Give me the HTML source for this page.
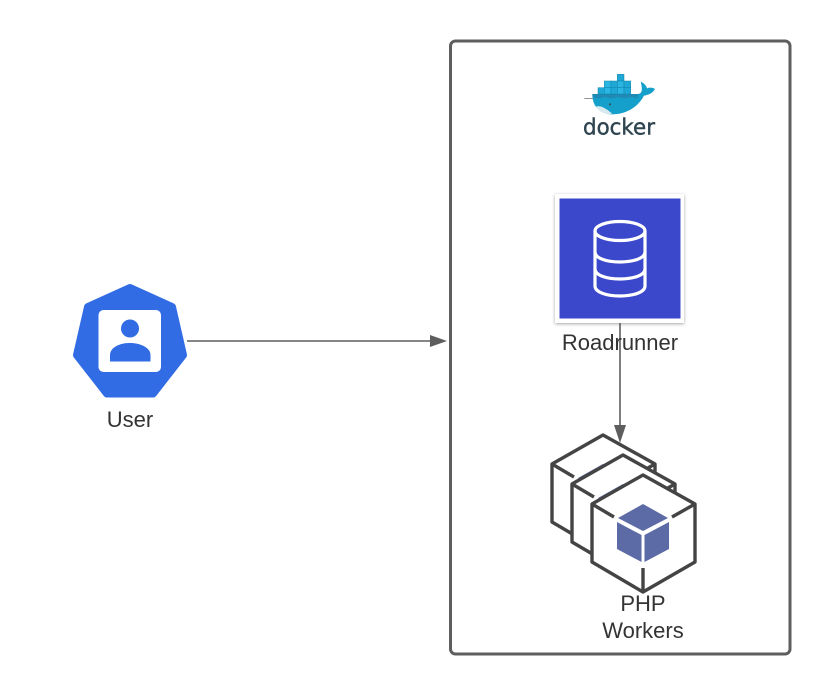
<!DOCTYPE html>
<html><head><meta charset="utf-8"><style>
html,body{margin:0;padding:0;background:#fff}
svg{display:block}
text{font-family:"Liberation Sans",sans-serif;fill:#333;text-anchor:middle}
</style></head><body>
<svg width="830" height="694" viewBox="0 0 830 694" xmlns="http://www.w3.org/2000/svg">
<defs>
<filter id="s" x="-10%" y="-10%" width="120%" height="120%"><feDropShadow dx="0" dy="1" stdDeviation="1.5" flood-color="#000" flood-opacity=".35"/></filter>
<g id="cube">
<polygon points="643,475 695,504 695,562 643,592 592,562 592,504" fill="#fff" stroke="#444" stroke-width="3.4" stroke-linejoin="round"/>
<path d="M592,504L614,517M695,504L672,517M643,592V568" fill="none" stroke="#444" stroke-width="3.4"/>
<polygon points="643,504 668,518 643,531 618,518" fill="#5c6ba6"/>
<polygon points="617,522 641.500,535 641.500,562 617,549" fill="#5c6ba6"/>
<polygon points="669,522 644.500,535 644.500,562 669,549" fill="#5c6ba6"/>
</g>
</defs>

<rect x="450.500" y="41" width="339.500" height="613" rx="5" fill="#fff" stroke="#5e5e5e" stroke-width="3"/>

<!-- Docker -->
<g transform="translate(575,65) scale(.3333)">
<path d="M28,100H178" stroke="#555" stroke-width="2" fill="none"/>
<path d="M52,87H190C200,85 204,78 197,50C208,55 214,62 216,70C224,67 233,67 240,72C234,84 220,90 207,92C190,125 155,148 112,148C75,148 52,125 52,87Z" fill="#159fcb"/>
<path d="M52,87H190L186,100L170,96L150,100L130,96L110,100L90,96L70,100L53,97Z" fill="#2089b4"/>
<path d="M62,125C78,120 92,130 112,146C88,150 72,140 62,125Z" fill="#d8eaf0"/>
<g stroke="#0f86ad" stroke-width="1.500">
<rect x="127" y="28" width="20" height="20" fill="#1fa8d6"/>
<rect x="88" y="48" width="20" height="20" fill="#2ab5e2"/><rect x="108" y="48" width="19" height="20" fill="#1fa8d6"/><rect x="127" y="48" width="20" height="20" fill="#2ab5e2"/><rect x="147" y="48" width="20" height="20" fill="#1fa8d6"/>
<rect x="69" y="68" width="19" height="19" fill="#1fa8d6"/><rect x="88" y="68" width="20" height="19" fill="#2ab5e2"/><rect x="108" y="68" width="19" height="19" fill="#1fa8d6"/><rect x="127" y="68" width="20" height="19" fill="#2ab5e2"/><rect x="147" y="68" width="20" height="19" fill="#1fa8d6"/>
</g>
<circle cx="105" cy="118" r="3" fill="#444"/>
</g>
<text x="619" y="134.500" font-size="22" textLength="72" lengthAdjust="spacingAndGlyphs" style="font-family:'DejaVu Sans',sans-serif;fill:#2f4550;stroke:#2f4550;stroke-width:.4">docker</text>

<!-- Roadrunner -->
<rect x="555" y="194" width="129" height="129" fill="#fff" filter="url(#s)"/>
<rect x="559.500" y="198.500" width="121" height="120" fill="#3b48cc"/>
<g fill="none" stroke="#fff" stroke-width="3.200">
<ellipse cx="620" cy="231" rx="25" ry="9.500"/>
<path d="M595,231V286C595,292 606,296 620,296C634,296 645,292 645,286V231"/>
<path d="M595,252C595,258 606,262 620,262C634,262 645,258 645,252"/>
<path d="M595,269C595,275 606,279 620,279C634,279 645,275 645,269"/>
</g>

<!-- Cubes -->
<use href="#cube" x="-40" y="-40"/>
<use href="#cube" x="-20" y="-20"/>
<use href="#cube"/>

<!-- Connectors -->
<path d="M187,341H431" stroke="#5e5e5e" stroke-width="1.600" fill="none"/>
<polygon points="430,335 447,341 430,347" fill="#5e5e5e"/>
<path d="M620,323V426" stroke="#5e5e5e" stroke-width="1.600" fill="none"/>
<polygon points="614,425 626,425 620,443" fill="#5e5e5e"/>

<!-- User -->
<polygon points="130,288 172,307 183,355 153,393.500 107,393.500 77,355 88,307" fill="#326ce5" stroke="#326ce5" stroke-width="8" stroke-linejoin="round"/>
<rect x="98.500" y="310" width="62.500" height="62" rx="5" fill="#fff"/>
<circle cx="130" cy="328.500" r="9" fill="#326ce5"/>
<path d="M110,361.500V355C110,348 119,343 130,343C141,343 150.500,348 150.500,355V361.500Z" fill="#326ce5"/>

<!-- Labels -->
<text x="130" y="427" font-size="22">User</text>
<text x="620" y="350" font-size="22">Roadrunner</text>
<text x="643" y="611" font-size="22">PHP</text>
<text x="643" y="638" font-size="22">Workers</text>
</svg>
</body></html>
